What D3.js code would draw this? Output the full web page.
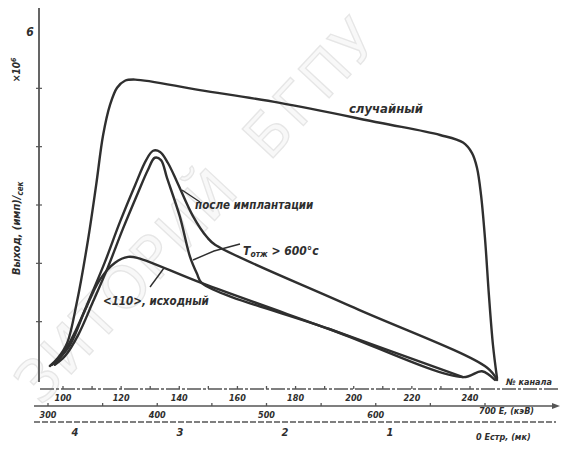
<!DOCTYPE html>
<html>
<head>
<meta charset="utf-8">
<script src="https://cdn.jsdelivr.net/npm/d3@7"></script>
<style>
  html, body { margin: 0; padding: 0; background: #fff; }
  svg { display: block; }
  .hand { font-family: "DejaVu Sans Condensed", "DejaVu Sans", sans-serif; font-style: italic; font-weight: bold; fill: #2e2e2e; }
</style>
</head>
<body>
<script>
// Channel number (top scale) vs. yield, ×10^6 counts per second
const randomCurve = [
  [95.5, 0.24], [98.3, 0.38], [101.4, 0.63], [104.8, 1.34], [108.6, 2.40], [111.4, 3.34],
  [113.8, 4.20], [116.2, 4.72], [118.6, 5.01], [121.3, 5.13], [124.8, 5.15], [147.1, 4.97],
  [174.6, 4.75], [209.0, 4.41], [229.7, 4.20], [237.6, 4.07], [240.7, 3.89], [242.4, 3.64],
  [243.8, 3.17], [245.2, 2.40], [246.5, 1.46], [247.9, 0.60], [249.3, 0.03]
];
const implantedCurve = [
  [96.2, 0.26], [99.7, 0.43], [104.1, 0.82], [109.3, 1.41], [114.4, 2.02], [119.6, 2.71],
  [124.8, 3.34], [128.6, 3.77], [131.0, 3.93], [133.4, 3.91], [136.1, 3.72], [139.2, 3.40],
  [144.7, 2.81], [149.5, 2.45], [152.3, 2.32], [198.7, 1.27], [245.9, 0.21], [249.3, 0.0]
];
const annealedCurve = [
  [97.2, 0.26], [100.7, 0.41], [105.2, 0.77], [110.3, 1.34], [115.5, 1.94], [120.6, 2.59],
  [125.8, 3.21], [129.2, 3.60], [131.6, 3.81], [133.7, 3.77], [135.8, 3.46], [140.2, 2.80],
  [143.7, 2.11], [146.1, 1.82], [147.8, 1.66], [191.8, 0.87], [237.6, 0.05]
];
const initialCurve = [
  [97.2, 0.29], [102.4, 0.60], [107.6, 1.20], [112.7, 1.72], [117.9, 2.01], [122.4, 2.11],
  [125.8, 2.09], [147.8, 1.66], [191.8, 0.87], [237.6, 0.05], [244.1, 0.15], [248.6, 0.0]
];

// Scales under the plot
const channelTicks = [100, 110, 120, 130, 140, 150, 160, 170, 180, 190, 200, 210, 220, 230, 240];
const channelLabels = [100, 120, 140, 160, 180, 200, 220, 240];
const energyTicks = [300, 350, 400, 450, 500, 550, 600, 650, 700];
const energyLabels = [300, 400, 500, 600];
const depthLabels = [4, 3, 2, 1];
const yieldTicks = [1, 2, 3, 4, 5];

const W = 562, H = 449;
const svg = d3.select("body").append("svg").attr("width", W).attr("height", H);

// faint repository stamp across the sheet, one glyph at a time
const stampLetters = "ЗИТОРИЙ БГПУ".split("");
const stamp = svg.append("g").attr("transform", "translate(10,440) rotate(-47)");
stamp.selectAll("text").data(stampLetters).join("text")
  .attr("x", (d, i) => 64 + i * 42)
  .attr("y", 0)
  .attr("text-anchor", "middle")
  .attr("font-family", "DejaVu Sans, sans-serif")
  .attr("font-size", 58)
  .attr("fill", "#f8f8f8")
  .attr("stroke", "#e6e6e6")
  .attr("stroke-width", 1.3)
  .text(d => d);

const x = d3.scaleLinear().domain([100, 240]).range([63, 470]);
const y = d3.scaleLinear().domain([0, 6]).range([380, 30]);
const xE = d3.scaleLinear().domain([300, 700]).range([48, 485]);
const xD = d3.scaleLinear().domain([4, 0]).range([75, 495]);

const ink = "#2f2f2f";

// vertical axis
svg.append("line").attr("x1", 39).attr("x2", 39).attr("y1", 8).attr("y2", 382)
  .attr("stroke", "#4a4a4a").attr("stroke-width", 1.7);
svg.selectAll(".ytick").data(yieldTicks).join("line")
  .attr("x1", 36).attr("x2", 42)
  .attr("y1", d => y(d)).attr("y2", d => y(d))
  .attr("stroke", "#555").attr("stroke-width", 1.2);
svg.append("text").attr("class", "hand").attr("x", 30).attr("y", y(6) + 6)
  .attr("text-anchor", "middle").attr("font-size", 12).text("6");

const yl = svg.append("text").attr("class", "hand")
  .attr("transform", "translate(20,275) rotate(-90)")
  .attr("font-size", 11);
yl.append("tspan").text("Выход, (имп)/");
yl.append("tspan").attr("font-size", 8).attr("dy", 3).text("сек");
const ym = svg.append("text").attr("class", "hand")
  .attr("transform", "translate(20,82) rotate(-90)")
  .attr("font-size", 10);
ym.append("tspan").text("×10");
ym.append("tspan").attr("font-size", 7).attr("dy", -4).text("6");

// three horizontal scales
const yA = 389, yB = 406, yC = 422;
svg.append("line").attr("x1", 40).attr("x2", 560).attr("y1", yA).attr("y2", yA)
  .attr("stroke", "#555").attr("stroke-width", 1.3).attr("stroke-dasharray", "14 2 3 2");
svg.selectAll(".ctick").data(channelTicks).join("line")
  .attr("x1", d => x(d)).attr("x2", d => x(d)).attr("y1", yA - 3).attr("y2", yA)
  .attr("stroke", "#555").attr("stroke-width", 1.3);
svg.selectAll(".clab").data(channelLabels).join("text").attr("class", "hand")
  .attr("x", d => x(d)).attr("y", yA + 12).attr("text-anchor", "middle")
  .attr("font-size", 9).text(d => d);
svg.append("text").attr("class", "hand").attr("x", 506).attr("y", yA - 4)
  .attr("font-size", 9).text("№ канала");

svg.append("line").attr("x1", 34).attr("x2", 552).attr("y1", yB).attr("y2", yB)
  .attr("stroke", "#555").attr("stroke-width", 1.4);
svg.append("path").attr("d", `M552,${yB - 3}L560,${yB}L552,${yB + 3}Z`).attr("fill", "#555");
svg.selectAll(".etick").data(energyTicks).join("line")
  .attr("x1", d => xE(d)).attr("x2", d => xE(d)).attr("y1", yB - 3).attr("y2", yB)
  .attr("stroke", "#555").attr("stroke-width", 1.3);
svg.selectAll(".elab").data(energyLabels).join("text").attr("class", "hand")
  .attr("x", d => xE(d)).attr("y", yB + 12).attr("text-anchor", "middle")
  .attr("font-size", 9).text(d => d);
svg.append("text").attr("class", "hand").attr("x", xE(700) - 6).attr("y", yB + 8)
  .attr("font-size", 9).text("700 E, (кэВ)");

svg.append("line").attr("x1", 34).attr("x2", 556).attr("y1", yC).attr("y2", yC)
  .attr("stroke", "#555").attr("stroke-width", 1.3).attr("stroke-dasharray", "6 2");
svg.selectAll(".dlab").data(depthLabels).join("text").attr("class", "hand")
  .attr("x", d => xD(d)).attr("y", yC + 14).attr("text-anchor", "middle")
  .attr("font-size", 11).text(d => d);
svg.append("text").attr("class", "hand").attr("x", 476).attr("y", yC + 18)
  .attr("font-size", 9).text("0 Eстр, (мк)");

// spectra
const line = d3.line().x(d => x(d[0])).y(d => y(d[1])).curve(d3.curveCatmullRom.alpha(0.5));
[randomCurve, implantedCurve, annealedCurve, initialCurve].forEach(s => {
  svg.append("path").datum(s).attr("d", line)
    .attr("fill", "none").attr("stroke", ink).attr("stroke-width", 2.4)
    .attr("stroke-linejoin", "round").attr("stroke-linecap", "round");
});

// captions and leaders
const lead = (pts) => svg.append("path").attr("d", d3.line()(pts))
  .attr("fill", "none").attr("stroke", ink).attr("stroke-width", 1.4);

svg.append("text").attr("class", "hand").attr("x", 423).attr("y", 113)
  .attr("text-anchor", "end").attr("font-size", 13).text("случайный");

lead([[182, 190], [200, 202]]);
svg.append("text").attr("class", "hand").attr("x", 195).attr("y", 209)
  .attr("font-size", 11.5).text("после имплантации");

lead([[193, 260], [214, 251], [240, 244]]);
const tl = svg.append("text").attr("class", "hand").attr("x", 243).attr("y", 255).attr("font-size", 12);
tl.append("tspan").text("T");
tl.append("tspan").attr("font-size", 8.5).attr("dy", 2).text("отж");
tl.append("tspan").attr("dy", -2).text(" > 600°c");

lead([[150, 287], [164, 268]]);
svg.append("text").attr("class", "hand").attr("x", 103).attr("y", 305)
  .attr("font-size", 11.5).text("<110>, исходный");
</script>
</body>
</html>
